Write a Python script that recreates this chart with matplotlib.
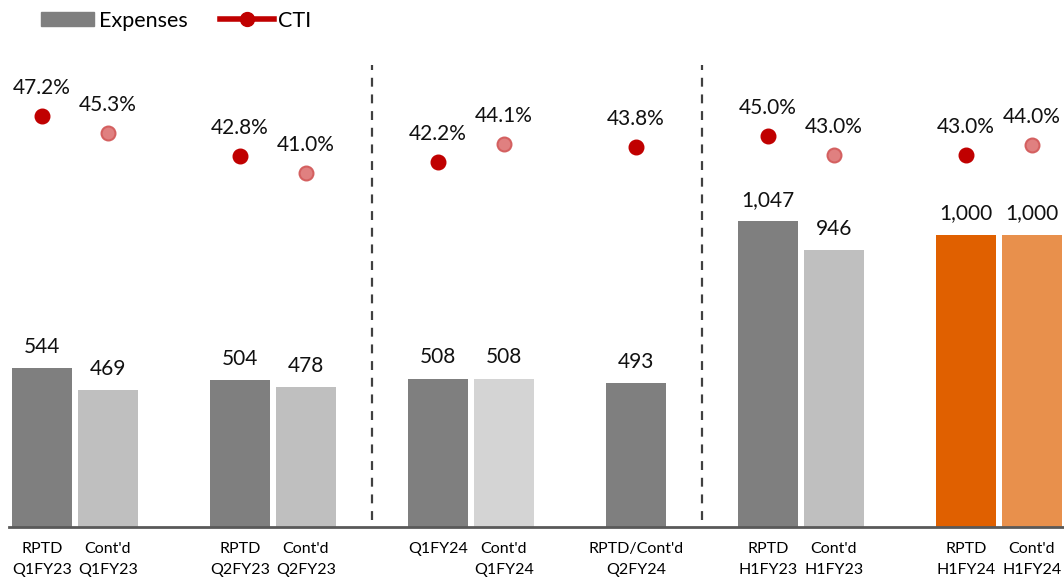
import numpy as np
import matplotlib
matplotlib.use("Agg")
import matplotlib.pyplot as plt
from matplotlib.patches import Patch
from matplotlib.lines import Line2D

plt.rcParams['font.family'] = ['Lato', 'DejaVu Sans']

# Data
labels = ["RPTD\nQ1FY23", "Cont'd\nQ1FY23", "RPTD\nQ2FY23", "Cont'd\nQ2FY23",
          "Q1FY24", "Cont'd\nQ1FY24", "RPTD/Cont'd\nQ2FY24",
          "RPTD\nH1FY23", "Cont'd\nH1FY23", "RPTD\nH1FY24", "Cont'd\nH1FY24"]
slots = [0, 1, 3, 4, 6, 7, 9, 11, 12, 14, 15]
expenses = [544, 469, 504, 478, 508, 508, 493, 1047, 946, 1000, 1000]
cti = [47.2, 45.3, 42.8, 41.0, 42.2, 44.1, 43.8, 45.0, 43.0, 43.0, 44.0]
bar_colors = ["#7f7f7f", "#bfbfbf", "#7f7f7f", "#bfbfbf", "#7f7f7f", "#d4d4d4",
              "#7f7f7f", "#7f7f7f", "#bfbfbf", "#e06000", "#e8904c"]
cti_light = [False, True, False, True, False, True, False, False, True, False, True]
dividers = [5, 10]

fig = plt.figure(figsize=(10.64, 5.83), dpi=100)
ax = fig.add_axes([9 / 1064, 1 - 527 / 583, 1056 / 1064, 487 / 583])
ax2 = ax.twinx()

ax.bar(slots, expenses, width=0.91, color=bar_colors, zorder=2)
for x, v in zip(slots, expenses):
    ax.annotate(f"{v:,}", (x, v), xytext=(0, 8), textcoords="offset points",
                ha="center", va="bottom", fontsize=15, color="#111111")

for x, v, light in zip(slots, cti, cti_light):
    if light:
        ax2.plot(x, v, "o", ms=10, mfc="#e08080", mec="#d46060", mew=1.5, zorder=3)
    else:
        ax2.plot(x, v, "o", ms=10.5, mfc="#c00000", mec="#c00000", zorder=3)
    ax2.annotate(f"{v:.1f}%", (x, v), xytext=(0, 13), textcoords="offset points",
                 ha="center", va="bottom", fontsize=15, color="#111111")

for d in dividers:
    ax.axvline(d, ymin=0.014, ymax=0.949, color="#404040", lw=1.6,
               ls=(0, (4, 3.5)), zorder=1)

ax.set_xlim(-0.5, 15.5)
ax.set_ylim(0, 1666)
ax2.set_ylim(2.48, 55.47)

ax.set_xticks(slots)
ax.set_xticklabels(labels, fontsize=11.5, linespacing=1.65)
ax.tick_params(axis="x", length=0, pad=11)
ax.set_yticks([])
ax2.set_yticks([])
for s in ["top", "left", "right"]:
    ax.spines[s].set_visible(False)
    ax2.spines[s].set_visible(False)
ax2.spines["bottom"].set_visible(False)
ax.spines["bottom"].set_color("#595959")
ax.spines["bottom"].set_linewidth(2)

handles = [Patch(color="#7f7f7f", label="Expenses"),
           Line2D([0], [0], color="#c00000", lw=4, marker="o", ms=10, label="CTI")]
fig.legend(handles=handles, loc="upper left", bbox_to_anchor=(0.02, 1.015), ncol=2,
           frameon=False, fontsize=15.5, handlelength=2.5, handleheight=0.6,
           handletextpad=0.2, columnspacing=1.5)

fig.savefig("out.png", dpi=100)
